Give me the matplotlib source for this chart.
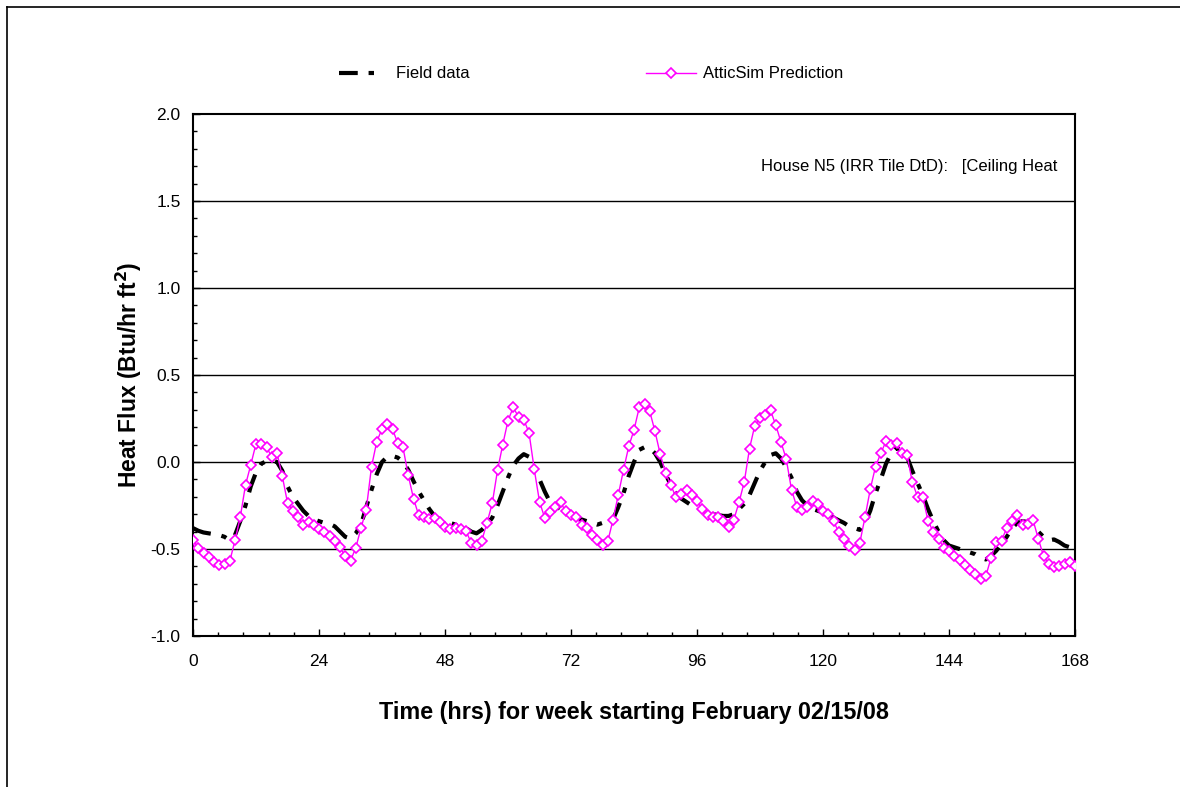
import matplotlib
matplotlib.use("Agg")
import matplotlib.pyplot as plt
from matplotlib.ticker import MultipleLocator, FormatStrFormatter
from matplotlib.lines import Line2D

plt.rcParams['font.family'] = ['Liberation Sans', 'DejaVu Sans']
plt.rcParams['axes.unicode_minus'] = False

hours = list(range(0, 169))

field_data = [
    -0.38, -0.395, -0.405, -0.41, -0.415, -0.42, -0.43, -0.45, -0.42, -0.34,
    -0.25, -0.14, -0.06, -0.01, 0.005, 0.01, 0.0, -0.05, -0.14, -0.20,
    -0.24, -0.28, -0.31, -0.33, -0.34, -0.35, -0.355, -0.37, -0.40, -0.43,
    -0.44, -0.41, -0.36, -0.26, -0.16, -0.07, 0.0, 0.03, 0.035, 0.025,
    0.0, -0.045, -0.11, -0.17, -0.22, -0.27, -0.31, -0.33, -0.34, -0.35,
    -0.36, -0.37, -0.38, -0.40, -0.41, -0.39, -0.36, -0.32, -0.25, -0.17,
    -0.09, -0.02, 0.02, 0.045, 0.03, -0.03, -0.10, -0.17, -0.23, -0.25,
    -0.27, -0.28, -0.30, -0.32, -0.33, -0.34, -0.35, -0.36, -0.35, -0.345,
    -0.33, -0.26, -0.18, -0.08, 0.0, 0.07, 0.085, 0.08, 0.05, 0.0,
    -0.07, -0.13, -0.18, -0.21, -0.23, -0.25, -0.26, -0.28, -0.29, -0.30,
    -0.305, -0.31, -0.31, -0.30, -0.27, -0.24, -0.19, -0.12, -0.05, 0.0,
    0.04, 0.05, 0.02, -0.03, -0.09, -0.17, -0.22, -0.25, -0.27, -0.28,
    -0.29, -0.30, -0.32, -0.335, -0.35, -0.37, -0.38, -0.39, -0.35, -0.28,
    -0.18, -0.10, -0.01, 0.05, 0.08, 0.07, 0.03, -0.05, -0.12, -0.19,
    -0.27, -0.34, -0.40, -0.45, -0.48, -0.49, -0.50, -0.51, -0.52, -0.53,
    -0.55, -0.56, -0.54, -0.51, -0.47, -0.43, -0.38, -0.35, -0.34, -0.345,
    -0.37, -0.40, -0.43, -0.45, -0.445, -0.46, -0.48, -0.49,
]
field_hours = hours[:len(field_data)]

atticsim = [
    -0.448, -0.494, -0.523, -0.546, -0.575, -0.594, -0.586, -0.571, -0.45, -0.318,
    -0.132, -0.017, 0.105, 0.105, 0.085, 0.03, 0.05, -0.08, -0.234, -0.28,
    -0.318, -0.36, -0.345, -0.36, -0.385, -0.404, -0.423, -0.452, -0.49, -0.542,
    -0.567, -0.494, -0.379, -0.274, -0.027, 0.117, 0.19, 0.22, 0.188, 0.109,
    0.084, -0.077, -0.21, -0.307, -0.314, -0.33, -0.322, -0.345, -0.375, -0.383,
    -0.38, -0.383, -0.398, -0.464, -0.479, -0.452, -0.35, -0.238, -0.048, 0.10,
    0.238, 0.314, 0.259, 0.243, 0.169, -0.042, -0.228, -0.322, -0.29, -0.26,
    -0.232, -0.284, -0.307, -0.314, -0.364, -0.379, -0.418, -0.45, -0.479, -0.456,
    -0.333, -0.188, -0.046, 0.09, 0.184, 0.314, 0.333, 0.291, 0.176, 0.044,
    -0.061, -0.134, -0.201, -0.182, -0.163, -0.19, -0.226, -0.272, -0.303, -0.318,
    -0.318, -0.341, -0.374, -0.333, -0.232, -0.115, 0.077, 0.209, 0.253, 0.268,
    0.297, 0.212, 0.114, 0.017, -0.159, -0.257, -0.276, -0.257, -0.226, -0.241,
    -0.284, -0.299, -0.341, -0.402, -0.444, -0.481, -0.506, -0.466, -0.318, -0.157,
    -0.027, 0.05, 0.119, 0.10, 0.107, 0.05, 0.042, -0.115, -0.199, -0.20,
    -0.337, -0.402, -0.44, -0.494, -0.513, -0.542, -0.561, -0.59, -0.619, -0.642,
    -0.672, -0.657, -0.552, -0.462, -0.452, -0.379, -0.341, -0.303, -0.36, -0.356,
    -0.333, -0.44, -0.54, -0.586, -0.605, -0.598, -0.586, -0.577, -0.598,
]

x_ticks = [0, 24, 48, 72, 96, 120, 144, 168]
y_ticks = [-1.0, -0.5, 0.0, 0.5, 1.0, 1.5, 2.0]

W, H = 1180, 787
fig = plt.figure(figsize=(W/100, H/100), dpi=100)
ax = fig.add_axes([193/W, 1 - 636/H, (1075-193)/W, (636-114)/H])

for yv in y_ticks[1:-1]:
    ax.axhline(yv, color='black', lw=1.0, zorder=1)

field_line, = ax.plot(field_hours, field_data, color='black', lw=3.0,
                      linestyle=(0, (4.5, 2.6, 1.3, 2.6)), label='Field data', zorder=3)
sim_line, = ax.plot(hours, atticsim, color='#FF00FF', lw=1.0, marker='D', markersize=5,
                    markerfacecolor='white', markeredgecolor='#FF00FF', markeredgewidth=1.2,
                    label='AtticSim Prediction', zorder=4)

ax.set_xlim(0, 168)
ax.set_ylim(-1.0, 2.0)
ax.set_xticks(x_ticks)
ax.set_yticks(y_ticks)
ax.xaxis.set_minor_locator(MultipleLocator(4.8))
ax.yaxis.set_minor_locator(MultipleLocator(0.1))
ax.yaxis.set_major_formatter(FormatStrFormatter('%.1f'))
ax.tick_params(axis='both', which='major', direction='in', length=5, width=1,
               labelsize=12.5)
ax.tick_params(axis='x', which='major', pad=13)
ax.tick_params(axis='y', which='major', pad=9)
ax.tick_params(axis='both', which='minor', direction='in', length=3, width=1)
for s in ax.spines.values():
    s.set_linewidth(1.5)
    s.set_color('black')

ax.set_ylabel('Heat Flux (Btu/hr ft$^\\mathbf{2}$)', fontsize=16.5, fontweight='bold', labelpad=4.5)
ax.set_xlabel('Time (hrs) for week starting February 02/15/08', fontsize=16.8,
              fontweight='bold', labelpad=23)

ax.text(0.98, 0.899, 'House N5 (IRR Tile DtD):   [Ceiling Heat', transform=ax.transAxes,
        ha='right', va='center', fontsize=12)

leg1 = fig.legend(handles=[field_line], loc='center left',
                  bbox_to_anchor=(339/W, 1 - 74/H), frameon=False, fontsize=12,
                  handlelength=2.6, handletextpad=0.8, borderpad=0, borderaxespad=0)
leg2 = fig.legend(handles=[sim_line], loc='center left',
                  bbox_to_anchor=(646/W, 1 - 74/H), frameon=False, fontsize=12,
                  handlelength=3.0, handletextpad=0.42, borderpad=0, borderaxespad=0)

fig.add_artist(Line2D([7/W, 7/W], [0, 1 - 7/H], transform=fig.transFigure,
                      color='black', lw=1.2))
fig.add_artist(Line2D([7/W, 1], [1 - 7/H, 1 - 7/H], transform=fig.transFigure,
                      color='black', lw=1.2))

fig.savefig('out.png', dpi=100)
